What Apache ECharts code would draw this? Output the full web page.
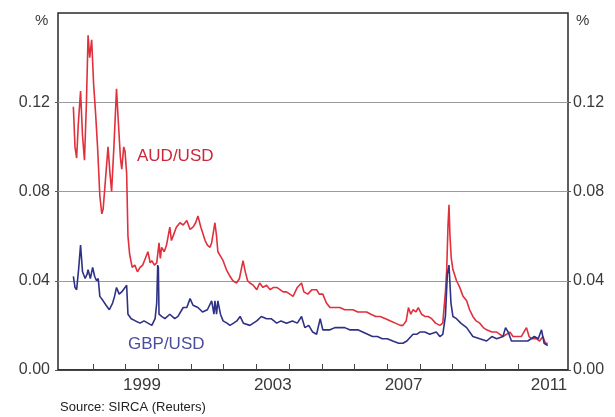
<!DOCTYPE html>
<html><head><meta charset="utf-8">
<script src="https://cdn.jsdelivr.net/npm/echarts@6/dist/echarts.min.js"></script>
<style>html,body{margin:0;padding:0;background:#fff}#c{width:615px;height:417px}</style>
</head><body><div id="c"></div>
<script>
// AUD/USD (red) — x in chart years, y in per cent
const audX = [1997.40,1997.45,1997.50,1997.55,1997.62,1997.68,1997.74,1997.80,1997.85,1997.90,1997.96,1998.02,1998.08,1998.14,1998.21,1998.27,1998.31,1998.38,1998.46,1998.52,1998.57,1998.64,1998.72,1998.78,1998.84,1998.88,1998.94,1998.98,1999.03,1999.07,1999.12,1999.20,1999.28,1999.36,1999.44,1999.52,1999.60,1999.68,1999.75,1999.80,1999.88,1999.95,2000.02,2000.06,2000.10,2000.18,2000.25,2000.30,2000.35,2000.40,2000.45,2000.55,2000.66,2000.76,2000.87,2000.97,2001.06,2001.14,2001.21,2001.30,2001.43,2001.50,2001.58,2001.63,2001.73,2001.78,2001.82,2001.90,2001.98,2002.08,2002.19,2002.28,2002.39,2002.48,2002.59,2002.66,2002.73,2002.80,2002.90,2003.01,2003.10,2003.20,2003.31,2003.42,2003.52,2003.62,2003.72,2003.82,2003.92,2004.02,2004.12,2004.25,2004.38,2004.45,2004.57,2004.70,2004.84,2004.92,2005.03,2005.14,2005.25,2005.40,2005.55,2005.70,2005.85,2005.95,2006.10,2006.25,2006.37,2006.50,2006.65,2006.78,2006.95,2007.10,2007.25,2007.40,2007.48,2007.58,2007.65,2007.72,2007.79,2007.88,2007.95,2008.05,2008.15,2008.25,2008.36,2008.48,2008.61,2008.70,2008.78,2008.82,2008.86,2008.89,2008.92,2008.96,2009.01,2009.12,2009.22,2009.32,2009.43,2009.52,2009.62,2009.72,2009.83,2009.94,2010.04,2010.20,2010.35,2010.45,2010.54,2010.65,2010.75,2010.85,2010.96,2011.10,2011.26,2011.34,2011.42,2011.57,2011.66,2011.76,2011.84,2011.91];
const audY = [0.118,0.100,0.095,0.110,0.125,0.105,0.094,0.120,0.150,0.140,0.148,0.128,0.115,0.100,0.078,0.070,0.072,0.085,0.100,0.088,0.080,0.100,0.126,0.110,0.095,0.090,0.100,0.098,0.088,0.060,0.052,0.046,0.047,0.044,0.046,0.047,0.050,0.053,0.048,0.049,0.047,0.048,0.057,0.050,0.055,0.053,0.056,0.060,0.064,0.058,0.060,0.064,0.066,0.065,0.067,0.063,0.064,0.066,0.069,0.064,0.058,0.056,0.055,0.057,0.066,0.060,0.053,0.051,0.049,0.045,0.042,0.040,0.039,0.041,0.049,0.044,0.040,0.039,0.038,0.036,0.039,0.037,0.038,0.036,0.037,0.037,0.036,0.035,0.035,0.034,0.033,0.037,0.039,0.035,0.034,0.036,0.036,0.034,0.034,0.030,0.028,0.028,0.028,0.027,0.027,0.027,0.026,0.026,0.026,0.025,0.024,0.024,0.023,0.022,0.021,0.020,0.020,0.022,0.028,0.025,0.027,0.026,0.028,0.025,0.024,0.024,0.023,0.021,0.020,0.021,0.035,0.045,0.065,0.074,0.060,0.050,0.045,0.040,0.037,0.033,0.031,0.027,0.024,0.022,0.021,0.019,0.018,0.017,0.017,0.016,0.015,0.016,0.017,0.015,0.015,0.015,0.019,0.015,0.014,0.014,0.013,0.015,0.012,0.012];

// GBP/USD (blue)
const gbpX = [1997.40,1997.45,1997.50,1997.56,1997.62,1997.68,1997.76,1997.82,1997.85,1997.92,1997.99,1998.05,1998.11,1998.16,1998.21,1998.31,1998.40,1998.50,1998.60,1998.66,1998.72,1998.80,1998.88,1998.98,1999.03,1999.07,1999.17,1999.30,1999.44,1999.56,1999.68,1999.80,1999.90,1999.95,1999.98,2000.00,2000.02,2000.10,2000.20,2000.35,2000.50,2000.60,2000.76,2000.87,2000.97,2001.06,2001.21,2001.35,2001.50,2001.63,2001.70,2001.73,2001.78,2001.82,2001.90,2001.98,2002.10,2002.19,2002.30,2002.40,2002.50,2002.60,2002.80,2003.01,2003.15,2003.31,2003.45,2003.62,2003.75,2003.92,2004.10,2004.25,2004.38,2004.48,2004.60,2004.72,2004.84,2004.95,2005.03,2005.14,2005.25,2005.40,2005.55,2005.70,2005.85,2005.95,2006.10,2006.25,2006.40,2006.55,2006.70,2006.85,2007.00,2007.17,2007.35,2007.48,2007.60,2007.79,2007.90,2008.00,2008.15,2008.30,2008.50,2008.61,2008.70,2008.78,2008.84,2008.89,2008.95,2009.01,2009.12,2009.25,2009.43,2009.62,2009.83,2010.04,2010.20,2010.35,2010.54,2010.62,2010.70,2010.80,2010.96,2011.15,2011.30,2011.50,2011.62,2011.72,2011.80,2011.91];
const gbpY = [0.042,0.037,0.036,0.045,0.056,0.044,0.041,0.043,0.045,0.041,0.046,0.042,0.040,0.041,0.033,0.031,0.029,0.027,0.030,0.033,0.037,0.034,0.035,0.037,0.038,0.025,0.023,0.022,0.021,0.022,0.021,0.020,0.023,0.030,0.047,0.046,0.025,0.024,0.023,0.025,0.023,0.024,0.028,0.028,0.032,0.029,0.028,0.026,0.027,0.031,0.025,0.031,0.025,0.031,0.025,0.022,0.021,0.020,0.021,0.022,0.024,0.021,0.020,0.022,0.024,0.023,0.023,0.021,0.022,0.021,0.022,0.021,0.024,0.019,0.020,0.017,0.016,0.023,0.018,0.018,0.018,0.019,0.019,0.019,0.018,0.018,0.018,0.017,0.016,0.015,0.015,0.014,0.014,0.013,0.012,0.012,0.013,0.016,0.016,0.017,0.017,0.016,0.017,0.015,0.016,0.024,0.043,0.047,0.030,0.024,0.023,0.021,0.019,0.015,0.014,0.013,0.015,0.014,0.015,0.019,0.017,0.013,0.013,0.013,0.013,0.015,0.014,0.018,0.012,0.011];

const xTicks = [1998,1999,2000,2001,2002,2003,2004,2005,2006,2007,2008,2009,2010,2011];
const xLabelPos = [1999.5,2003.5,2007.5,2011.95];
const xLabelText = ['1999','2003','2007','2011'];
const yTicks = [0,0.04,0.08,0.12];

const chart = echarts.init(document.getElementById('c'), null, {renderer:'canvas'});
const FONT = 'Liberation Sans, Arial, sans-serif';
const zip = (xs, ys) => xs.map((x,i)=>[x, ys[i]]);
const yAxisBase = (pos) => ({
  type:'value', position:pos, min:0, max:0.16, interval:0.04,
  axisLine:{show:false},
  axisTick:{show:true, inside:false, length:3, lineStyle:{color:'#555'}, customValues:yTicks},
  axisLabel:{customValues:yTicks, formatter:v=>v.toFixed(2), color:'#3a3a3a', fontFamily:FONT, fontSize:16, margin: pos==='left'?8:5},
  splitLine:{show: pos==='left', lineStyle:{color:'#9a9a9a', width:1}}
});
chart.setOption({
  animation:false,
  backgroundColor:'#fff',
  grid:{left:58, right:47, top:13, bottom:47, show:true, borderColor:'#2a2a2a', borderWidth:1.5, backgroundColor:'transparent'},
  xAxis:{type:'value', min:1996.93, max:2012.53,
    axisLine:{show:true, lineStyle:{color:'#2a2a2a', width:1.5}},
    axisTick:{show:true, inside:true, length:6, customValues:xTicks, lineStyle:{color:'#444'}},
    axisLabel:{customValues:xLabelPos, formatter:v=>{const i=xLabelPos.findIndex(p=>Math.abs(p-v)<1e-6);return i>=0?xLabelText[i]:'';}, color:'#3a3a3a', fontFamily:FONT, fontSize:17, margin:7},
    splitLine:{show:false}},
  yAxis:[yAxisBase('left'), yAxisBase('right')],
  series:[
    {type:'line', name:'AUD/USD', data:zip(audX,audY), showSymbol:false, lineStyle:{color:'#e0303c', width:1.6}, z:3},
    {type:'line', name:'GBP/USD', data:zip(gbpX,gbpY), showSymbol:false, lineStyle:{color:'#2e3185', width:1.6}, z:4}
  ],
  graphic:[
    {type:'text', left:35, top:13, style:{text:'%', fill:'#3a3a3a', font:'15px '+FONT}},
    {type:'text', left:576, top:13, style:{text:'%', fill:'#3a3a3a', font:'15px '+FONT}},
    {type:'text', left:137, top:148, style:{text:'AUD/USD', fill:'#c9283a', font:'17px '+FONT}},
    {type:'text', left:128, top:336, style:{text:'GBP/USD', fill:'#4a4c9e', font:'17px '+FONT}},
    {type:'text', left:60, top:401, style:{text:'Source: SIRCA (Reuters)', fill:'#222', font:'13px '+FONT}}
  ]
});
</script></body></html>
